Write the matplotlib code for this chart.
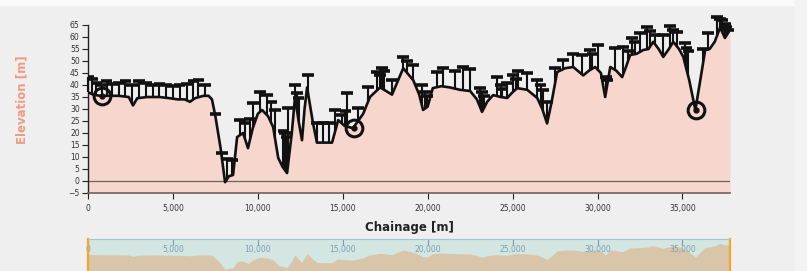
import numpy as np
import matplotlib
matplotlib.use("Agg")
import matplotlib.pyplot as plt
from matplotlib.ticker import FuncFormatter

# ---------------- data ----------------
ground_chain = [0, 300, 700, 1200, 1800, 2400, 2650, 2900, 3500, 4200, 4800, 5300, 5700, 6000,
                6300, 6800, 7100, 7300, 7500, 7800, 8070, 8300, 8540, 8780, 9130, 9420, 9700,
                10000, 10250, 10600, 10900, 11200, 11450, 11720, 12000, 12190, 12400, 12600,
                12750, 12900, 13250, 13480, 14370, 14730, 15100, 15600, 16200, 16600, 17200,
                17900, 18560, 19150, 19500, 19730, 20000, 20300, 20800, 21300, 21900, 22500,
                22900, 23200, 23500, 23850, 24300, 24680, 25000, 25270, 25860, 26450, 26750,
                27030, 27300, 27620, 28100, 28570, 29160, 29500, 29860, 30200, 30450, 30750,
                31100, 31450, 31700, 31920, 32300, 32700, 33000, 33280, 33600, 33870, 34200,
                34460, 34800, 35050, 35400, 35760, 36050, 36340, 36600, 36900, 37220, 37500,
                37800]
ground_elev = [37, 36, 35.5, 35.5, 35.5, 35, 31.5, 34.5, 35, 35, 34.5, 34, 34, 33,
               34.5, 35.5, 35.5, 34, 27, 14, -0.5, 2, 2.5, 18.3, 20, 13.7, 22,
               28, 29.6, 27, 22.5, 9.6, 6, 3.3, 20, 35, 25, 17,
               30, 39, 24, 16, 16, 25.4, 23, 22, 28, 35, 39,
               36, 47, 42, 36, 29.6, 31, 38.7, 39.5, 39, 38, 37.5,
               34, 28.8, 33, 35.8, 35, 34.6, 37, 38.7, 38, 34.6, 30,
               24, 33, 45.4, 47, 47.5, 44, 46, 47.5, 45, 35, 47.5,
               46, 43.3, 48, 52.5, 53, 54.6, 55, 58, 55, 51.7, 55,
               58, 55, 51.7, 42, 29.6, 42, 54.6, 55, 58, 64, 59.6,
               63]

t_chain = [0, 250, 500, 800, 1100, 1400, 1800, 2200, 2600, 3000, 3400, 3800, 4200, 4600,
           5000, 5400, 5800, 6200, 6500, 6900, 7500, 7900, 8200, 8480, 8950, 9250, 9540,
           9720, 10130, 10540, 10800, 11010, 11500, 11600, 11700, 11780, 12190, 12300,
           12400, 12960, 13480, 13840, 14200, 14540, 14960, 15150, 15250, 15900, 16500,
           17020, 17200, 17320, 17450, 17900, 18560, 18790, 19150, 19670, 19850, 19950,
           20560, 20910, 21620, 22090, 22500, 23090, 23200, 23300, 24090, 24300, 24400,
           24680, 25030, 25200, 25330, 25860, 26450, 26650, 26800, 27030, 27500, 27970,
           28570, 29100, 29570, 29700, 30040, 30500, 30570, 31040, 31510, 31800, 32040,
           32200, 32510, 32920, 33100, 33400, 33870, 34280, 34450, 34690, 35160, 35250,
           35350, 36220, 36520, 37050, 37200, 37350, 37500, 37600, 37700]
t_top = [43.5, 42.5, 41, 40, 41.5, 40.5, 41, 41.5, 40, 41.5, 41, 40, 40.5, 40,
         39.5, 40, 40.5, 41.5, 42, 40, 28, 11.7, 9, 8.7, 25.4, 24, 26,
         32.5, 37, 35.8, 33, 29.6, 21, 20, 18.5, 30.4, 40, 36.7,
         34.5, 44, 24, 24, 24, 29.6, 27.5, 29, 36.7, 30.4, 39,
         45.4, 44, 47, 46, 42, 51.7, 50, 48.3, 40, 37, 35.5,
         45.4, 47, 46, 47.5, 46.5, 38.7, 37, 35.5, 43.3, 40, 38.5,
         41, 44, 42.5, 46, 45, 42, 40, 38, 33, 47, 50.6,
         53, 52.5, 54.6, 53, 56.7, 43.5, 42, 55.4, 56, 54, 59.6,
         58, 61.7, 64, 62.5, 61, 60.8, 64.6, 63, 62, 57.5, 55.5,
         54, 55, 61.7, 68.3, 67.5, 67, 65.5, 64, 63]

circle_chain = [800, 15650, 35800]
circle_elev = [35.5, 22, 29.6]

x_ticks = [0, 5000, 10000, 15000, 20000, 25000, 30000, 35000]
y_ticks = list(range(-5, 70, 5))

# ---------------- figure ----------------
W, H = 807, 271
BG = "#efefef"
fig = plt.figure(figsize=(W / 100, H / 100), dpi=100, facecolor=BG)

fig.patches.append(plt.Rectangle((0, 1 - 5 / H), 1, 5 / H, transform=fig.transFigure,
                                 color="#fafafa", zorder=0))
fig.patches.append(plt.Rectangle((795 / W, 0), 12 / W, 1, transform=fig.transFigure,
                                 color="#f3f3f3", zorder=0))

def px(x0, y0, x1, y1):
    return [x0 / W, 1 - y1 / H, (x1 - x0) / W, (y1 - y0) / H]

ax = fig.add_axes(px(88, 25, 730, 193))
ax.set_facecolor(BG)
xmax = 37800
ax.set_xlim(0, xmax)
ax.set_ylim(-5, 65)

gx = np.array(ground_chain, float)
gy = np.array(ground_elev, float)
ax.fill_between(gx, gy, -5, color="#f6d6cd", lw=0, zorder=1)
ax.axhline(0, color="#6e6260", lw=0.9, zorder=2)

tc = np.array(t_chain, float)
tt = np.array(t_top, float)
tb = np.interp(tc, gx, gy)
half = 340
ax.vlines(tc, tb, tt, color="#111111", lw=1.5, zorder=3, clip_on=False)
ax.hlines(tt, np.clip(tc - half, 0, None), tc + half, color="#111111", lw=2.6,
          zorder=3, clip_on=False)

ax.plot(gx, gy, color="#111111", lw=1.9, zorder=4, solid_joinstyle="round")

ax.plot(circle_chain, circle_elev, "o", ms=12, mfc="none", mec="#111111", mew=2.2, zorder=5)
ax.plot(circle_chain, circle_elev, "o", ms=3.5, color="#111111", zorder=5)

for s in ["top", "right"]:
    ax.spines[s].set_visible(False)
ax.spines["left"].set_color("#222222")
ax.spines["bottom"].set_color("#6e6260")
ax.spines["left"].set_linewidth(1.0)
ax.spines["bottom"].set_linewidth(1.2)
ax.set_xticks(x_ticks)
ax.set_yticks(y_ticks)
ax.xaxis.set_major_formatter(FuncFormatter(lambda v, p: f"{int(v):,}"))
ax.tick_params(axis="both", direction="out", length=4, width=0.8, colors="#222222",
               labelsize=5.5, labelcolor="#333333", pad=2)
ax.tick_params(axis="x", pad=4)

fig.text(22 / W, 1 - 100 / H, "Elevation [m]", rotation=90, ha="center", va="center",
         color="#f19a82", fontsize=8.5, fontweight="bold")
fig.text(409 / W, 1 - 228 / H, "Chainage [m]", ha="center", va="center",
         color="#222222", fontsize=8.5, fontweight="bold")

# ---------------- navigator ----------------
nav = fig.add_axes(px(88, 239, 730, 271))
nav.set_facecolor("#d3e6e1")
nav.set_xlim(0, xmax)
nav.set_ylim(-5, 75)
nav.fill_between(gx, gy, -5, color="#d9c6aa", lw=0, zorder=1)
nav.spines["bottom"].set_visible(False)
nav.spines["top"].set_color("#a9c4cc")
nav.spines["top"].set_linewidth(0.8)
nav.spines["left"].set_color("#f5a623")
nav.spines["right"].set_color("#f5a623")
nav.spines["left"].set_linewidth(1.6)
nav.spines["right"].set_linewidth(1.6)
nav.set_yticks([])
nav.set_xticks(x_ticks)
nav.xaxis.set_major_formatter(FuncFormatter(lambda v, p: f"{int(v):,}"))
nav.tick_params(axis="x", top=True, bottom=False, labeltop=True, labelbottom=False,
                direction="in", length=4, width=0.8, colors="#7a9bb0",
                labelsize=5.5, labelcolor="#7e9db3", pad=-11)

fig.savefig("out.png", dpi=100, facecolor=BG)
